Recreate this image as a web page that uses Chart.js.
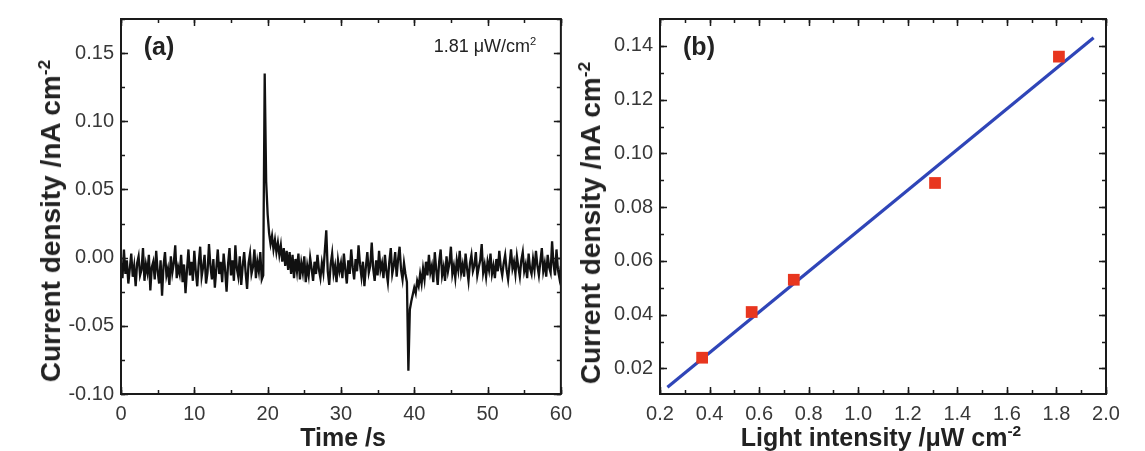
<!DOCTYPE html>
<html>
<head>
<meta charset="utf-8">
<script src="https://cdn.jsdelivr.net/npm/chart.js@4.4.1/dist/chart.umd.min.js"></script>
<style>
  html, body { margin: 0; padding: 0; background: #fff; }
  #wrap { position: relative; width: 1145px; height: 451px; overflow: hidden; font-family: "Liberation Sans", Arial, sans-serif; }
  canvas { position: absolute; top: 0; }
  .lbl { position: absolute; white-space: nowrap; color: #222; transform: translate(-50%, -50%); }
  .title { font-weight: bold; font-size: 25px; }
  .ytitle { font-size: 28px; }
  .rot { transform: translate(-50%, -50%) rotate(-90deg); }
  sup { font-size: 0.62em; vertical-align: 0.6em; line-height: 0; }
</style>
</head>
<body>
<div id="wrap">
  <canvas id="chartA" width="580" height="451" style="left:0"></canvas>
  <canvas id="chartB" width="565" height="451" style="left:580px"></canvas>

  <div class="lbl title ytitle rot" style="left:51px; top:221px">Current density /nA cm<sup>-2</sup></div>
  <div class="lbl title" style="left:343px; top:437px">Time /s</div>
  <div class="lbl title" style="left:159px; top:46px">(a)</div>
  <div class="lbl" style="left:485px; top:46px; font-size:18px">1.81 &mu;W/cm<sup>2</sup></div>

  <div class="lbl title ytitle rot" style="left:591px; top:223px">Current density /nA cm<sup>-2</sup></div>
  <div class="lbl title" style="left:881px; top:437px">Light intensity /&mu;W cm<sup>-2</sup></div>
  <div class="lbl title" style="left:699px; top:46px">(b)</div>
</div>
<script>
// (a) photocurrent trace, one sample every 0.2 s
const sampleStep = 0.2;
const trace00to10 = [
  -0.004, -0.015, 0.006, -0.012, -0.002, -0.019, -0.008, 0.003, -0.014, -0.006,
  -0.021, -0.004, 0.001, -0.013, -0.009, 0.007, -0.017, -0.005, -0.011, 0.002,
  -0.024, -0.007, -0.003, -0.016, 0.005, -0.010, -0.019, -0.002, -0.028, -0.006,
  0.004, -0.013, -0.008, -0.020, 0.001, -0.011, -0.004, 0.009, -0.015, -0.007,
  -0.012, 0.002, -0.018, -0.005, -0.026, -0.009, 0.006, -0.013, -0.003, -0.017
];
const trace10to20 = [
  0.005, -0.010, -0.021, -0.004, 0.008, -0.014, -0.007, 0.002, -0.019, -0.011,
  0.010, -0.006, -0.016, -0.001, -0.022, -0.008, 0.006, -0.012, -0.003, -0.018,
  0.003, -0.009, -0.025, -0.005, 0.007, -0.013, -0.002, -0.017, 0.009, -0.008,
  -0.014, 0.001, -0.020, -0.006, 0.004, -0.011, -0.023, -0.004, 0.003, -0.012,
  -0.007, 0.006, -0.015, -0.003, -0.010, 0.004, -0.016, -0.013, 0.135, 0.056
];
const trace20to30 = [
  0.032, 0.018, 0.010, 0.016, 0.006, 0.013, 0.004, 0.011, 0.002, 0.009,
  -0.003, 0.007, -0.006, 0.005, -0.009, 0.004, -0.012, 0.002, -0.015, -0.001,
  -0.010, 0.003, -0.016, -0.004, -0.011, 0.001, -0.018, -0.006, -0.013, 0.000,
  -0.008, -0.017, -0.003, -0.012, 0.002, -0.009, -0.015, -0.004, -0.011, 0.005,
  0.020, -0.010, -0.020, -0.005, 0.003, -0.012, -0.006, -0.018, -0.002, -0.010
];
const trace30to40 = [
  -0.004, -0.015, 0.003, -0.009, -0.019, -0.002, -0.012, 0.006, -0.007, -0.016,
  -0.001, -0.010, 0.009, -0.005, -0.014, -0.003, -0.021, -0.007, 0.004, -0.011,
  -0.006, 0.011, -0.008, -0.017, -0.002, -0.013, 0.005, -0.009, -0.004, -0.015,
  0.002, -0.010, -0.018, -0.003, 0.007, -0.012, -0.006, 0.004, -0.014, -0.001,
  0.008, -0.009, -0.016, -0.004, -0.012, -0.018, -0.083, -0.038, -0.032, -0.027
];
const trace40to50 = [
  -0.022, -0.026, -0.017, -0.021, -0.012, -0.019, -0.008, -0.016, -0.003, -0.013,
  0.002, -0.011, -0.006, -0.018, 0.004, -0.009, -0.020, -0.003, 0.006, -0.013,
  -0.007, -0.017, 0.001, -0.010, -0.004, 0.008, -0.012, -0.006, -0.015, -0.002,
  -0.009, 0.005, -0.011, -0.005, -0.014, 0.003, -0.008, -0.017, -0.004, 0.002,
  -0.010, -0.006, 0.004, -0.013, -0.007, -0.002, 0.010, -0.011, -0.005, -0.014
];
const trace50to60 = [
  -0.003, -0.009, 0.003, -0.012, -0.006, -0.015, -0.001, -0.010, 0.005, -0.007,
  -0.013, -0.004, 0.002, -0.009, -0.016, -0.005, 0.006, -0.008, -0.003, -0.012,
  0.001, -0.007, -0.014, -0.002, 0.004, -0.010, -0.005, -0.015, 0.003, -0.008,
  -0.012, -0.001, -0.009, 0.005, -0.006, -0.013, -0.003, 0.007, -0.010, -0.004,
  -0.014, 0.002, -0.007, -0.011, 0.012, -0.005, -0.013, 0.006, -0.009, -0.015,
  -0.006
];

// (b) current density vs light intensity
const intensity = [0.37, 0.57, 0.74, 1.31, 1.81];
const currentB = [0.024, 0.041, 0.053, 0.089, 0.136];
const fitX = [0.23, 1.95];
const fitY = [0.013, 0.143];

const traceA = [].concat(trace00to10, trace10to20, trace20to30, trace30to40, trace40to50, trace50to60);
const pointsA = traceA.map((v, i) => ({ x: +(i * sampleStep).toFixed(1), y: v }));
const pointsB = intensity.map((x, i) => ({ x: x, y: currentB[i] }));
const fitLine = fitX.map((x, i) => ({ x: x, y: fitY[i] }));

const tickFont = { family: '"Liberation Sans", Arial, sans-serif', size: 20 };
const tickColor = '#383838';

// frame + inward major/minor ticks on all four sides
const frameTicks = {
    id: 'frameTicks',
    afterDraw(chart, args, opts) {
        const { ctx, chartArea: a, scales } = chart;
        const xs = scales.x;
        const ys = scales.y;
        ctx.save();
        ctx.strokeStyle = '#1a1a1a';
        ctx.lineWidth = 1.5;

        function marks(scale, step, len, horizontal) {
            const start = Math.ceil((scale.min - 1e-9) / step) * step;
            for (let v = start; v <= scale.max + 1e-9; v += step) {
                const p = Math.round(scale.getPixelForValue(v)) + 0.5;
                ctx.beginPath();
                if (horizontal) {
                    ctx.moveTo(p, a.bottom); ctx.lineTo(p, a.bottom - len);
                    ctx.moveTo(p, a.top); ctx.lineTo(p, a.top + len);
                } else {
                    ctx.moveTo(a.left, p); ctx.lineTo(a.left + len, p);
                    ctx.moveTo(a.right, p); ctx.lineTo(a.right - len, p);
                }
                ctx.stroke();
            }
        }
        marks(xs, opts.xMinor, 4, true);
        marks(xs, opts.xMajor, 7, true);
        marks(ys, opts.yMinor, 4, false);
        marks(ys, opts.yMajor, 7, false);

        ctx.lineWidth = 2;
        ctx.strokeRect(a.left, a.top, a.right - a.left, a.bottom - a.top);
        ctx.restore();
    }
};

function fixedBox(w, h) {
    return function (scale) {
        if (w !== null) scale.width = w;
        if (h !== null) scale.height = h;
    };
}

new Chart(document.getElementById('chartA'), {
    type: 'line',
    data: {
        datasets: [{
            data: pointsA,
            borderColor: '#111',
            borderWidth: 2.3,
            pointRadius: 0,
            tension: 0,
        }],
    },
    options: {
        responsive: false,
        animation: false,
        events: [],
        layout: { padding: { top: 13, right: 14, left: 0, bottom: 0 } },
        plugins: {
            legend: { display: false },
            tooltip: { enabled: false },
            frameTicks: { xMajor: 10, xMinor: 5, yMajor: 0.05, yMinor: 0.025 },
        },
        scales: {
            x: {
                type: 'linear',
                min: 0,
                max: 60,
                grid: { display: false, drawTicks: false },
                border: { display: false },
                ticks: { stepSize: 10, includeBounds: false, padding: 8, color: tickColor, font: tickFont, maxRotation: 0 },
                afterFit: fixedBox(null, 57),
            },
            y: {
                min: -0.1,
                max: 0.175,
                grid: { display: false, drawTicks: false },
                border: { display: false },
                ticks: {
                    stepSize: 0.05,
                    includeBounds: false,
                    padding: 7,
                    color: tickColor,
                    font: tickFont,
                    callback: (v) => v.toFixed(2),
                },
                afterFit: fixedBox(121, null),
            },
        },
    },
    plugins: [frameTicks],
});

new Chart(document.getElementById('chartB'), {
    type: 'scatter',
    data: {
        datasets: [
            {
                type: 'line',
                data: fitLine,
                borderColor: '#2f45b8',
                borderWidth: 3.2,
                pointRadius: 0,
                order: 2,
            },
            {
                data: pointsB,
                pointStyle: 'rect',
                pointRadius: 8.3,
                backgroundColor: '#e8361f',
                borderWidth: 0,
                order: 1,
            },
        ],
    },
    options: {
        responsive: false,
        animation: false,
        events: [],
        layout: { padding: { top: 13, right: 39, left: 0, bottom: 0 } },
        plugins: {
            legend: { display: false },
            tooltip: { enabled: false },
            frameTicks: { xMajor: 0.2, xMinor: 0.1, yMajor: 0.02, yMinor: 0.01 },
        },
        scales: {
            x: {
                type: 'linear',
                min: 0.2,
                max: 2.0,
                grid: { display: false, drawTicks: false },
                border: { display: false },
                ticks: {
                    stepSize: 0.2,
                    includeBounds: false,
                    padding: 8,
                    color: tickColor,
                    font: tickFont,
                    maxRotation: 0,
                    callback: (v) => v.toFixed(1),
                },
                afterFit: fixedBox(null, 57),
            },
            y: {
                min: 0.0105,
                max: 0.15,
                grid: { display: false, drawTicks: false },
                border: { display: false },
                ticks: {
                    stepSize: 0.02,
                    includeBounds: false,
                    padding: 7,
                    color: tickColor,
                    font: tickFont,
                    callback: (v) => v.toFixed(2),
                },
                afterFit: fixedBox(80, null),
            },
        },
    },
    plugins: [frameTicks],
});
</script>
</body>
</html>
